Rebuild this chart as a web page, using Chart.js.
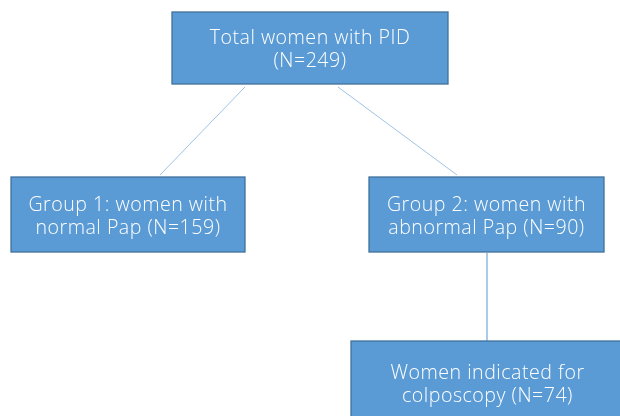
<!DOCTYPE html>
<html>
<head>
<meta charset="utf-8">
<script src="https://cdn.jsdelivr.net/npm/chart.js@4"></script>
<style>
  html, body { margin: 0; padding: 0; background: #ffffff; }
  #wrap { width: 620px; height: 416px; }
</style>
</head>
<body>
<div id="wrap"><canvas id="flowChart"></canvas></div>
<script>
// flowchart nodes, positions in the chart's own units (x 0-620, y 0-416 top-down)
var nodeTitles = ["Total women with PID", "Group 1: women with", "Group 2: women with", "Women indicated for"];
var nodeSubtitles = ["", "normal Pap", "abnormal Pap", "colposcopy"];
var nodeCounts = [249, 159, 90, 74];
var nodeLeft = [172, 11, 369, 351];
var nodeRight = [448, 245, 604, 624];
var nodeTop = [12, 177, 177, 341];
var nodeBottom = [84, 252, 252, 424];

// connector lines
var linkX = [[245, 160], [338, 457], [487, 487]];
var linkY = [[87, 175], [87, 175], [253, 341]];

function nodeLines(i) {
  var count = "(N=" + nodeCounts[i] + ")";
  if (nodeSubtitles[i] === "") return [nodeTitles[i], count];
  return [nodeTitles[i], nodeSubtitles[i] + " " + count];
}

var boxPlugin = {
  id: "boxes",
  afterDatasetsDraw: function (chart) {
    var ctx = chart.ctx;
    var xs = chart.scales.x;
    var ys = chart.scales.y;
    ctx.save();
    for (var i = 0; i < nodeTitles.length; i++) {
      var l = xs.getPixelForValue(nodeLeft[i]);
      var r = xs.getPixelForValue(nodeRight[i]);
      var t = ys.getPixelForValue(nodeTop[i]);
      var b = ys.getPixelForValue(nodeBottom[i]);
      ctx.fillStyle = "#5b9bd5";
      ctx.fillRect(l, t, r - l, b - t);
      ctx.strokeStyle = "#41719c";
      ctx.lineWidth = 1.3;
      ctx.strokeRect(l, t, r - l, b - t);

      var lines = nodeLines(i);
      var cx = (l + r) / 2;
      var cy = (t + b) / 2;
      ctx.fillStyle = "#ffffff";
      ctx.font = "300 19.6px 'Open Sans'";
      ctx.letterSpacing = "0.5px";
      ctx.textAlign = "center";
      ctx.textBaseline = "alphabetic";
      ctx.fillText(lines[0], cx, cy - 4);
      ctx.fillText(lines[1], cx, cy + 19);
    }
    ctx.restore();
  }
};

var datasets = linkX.map(function (xsArr, k) {
  return {
    data: xsArr.map(function (x, j) { return { x: x, y: linkY[k][j] }; }),
    showLine: true,
    borderColor: "#9dc3e6",
    borderWidth: 1,
    pointRadius: 0,
    fill: false
  };
});

new Chart(document.getElementById("flowChart"), {
  type: "scatter",
  data: { datasets: datasets },
  options: {
    responsive: true,
    maintainAspectRatio: false,
    animation: false,
    layout: { padding: 0 },
    plugins: {
      legend: { display: false },
      tooltip: { enabled: false }
    },
    scales: {
      x: { type: "linear", min: 0, max: 620, display: false },
      y: { type: "linear", min: 0, max: 416, reverse: true, display: false }
    }
  },
  plugins: [boxPlugin]
});
</script>
</body>
</html>
